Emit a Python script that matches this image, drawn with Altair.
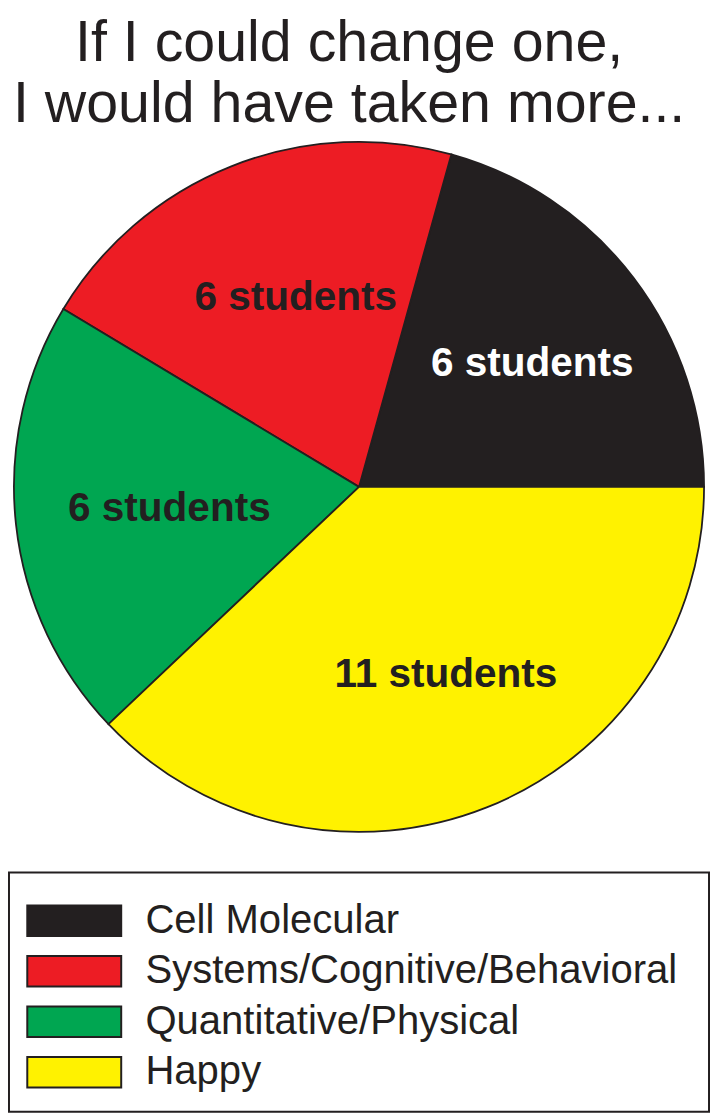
import math
import altair as alt
import pandas as pd

# ---- data ----
categories = ["Cell Molecular", "Systems/Cognitive/Behavioral", "Quantitative/Physical", "Happy"]
students = [6, 6, 6, 11]
colors = ["#231F20", "#ED1C24", "#00A651", "#FFF200"]
title_lines = ["If I could change one,", "I would have taken more..."]

df = pd.DataFrame({
    "category": categories,
    "students": students,
    "idx": list(range(len(categories))),
})
df["label"] = df["students"].astype(str) + " students"

FONT = "Liberation Sans"
INK = "#231F20"
color_scale = alt.Scale(domain=categories, range=colors)

base = alt.Chart(df).encode(
    theta=alt.Theta("students:Q", stack=True,
                    scale=alt.Scale(range=[math.pi / 2, math.pi / 2 + 2 * math.pi])),
    order=alt.Order("idx:Q", sort="descending"),
)
arcs = base.mark_arc(radius=349, stroke=INK, strokeWidth=1.8).encode(
    fill=alt.Fill("category:N", scale=color_scale, legend=None)
)
labels = base.mark_text(radius=205, dx=12, font=FONT, fontSize=41, fontWeight="bold").encode(
    text="label:N",
    color=alt.condition(alt.datum.category == "Cell Molecular",
                        alt.value("white"), alt.value(INK)),
)
pie = alt.layer(arcs, labels).properties(
    width=708,
    height=698,
    title=alt.TitleParams(text=title_lines, font=FONT, fontSize=58, fontWeight="normal",
                          color=INK, anchor="middle", lineHeight=62, offset=4, dx=-10),
    view=alt.ViewBackground(stroke="transparent"),
)

leg = alt.Chart(df).encode(
    y=alt.Y("category:N", sort=categories,
            scale=alt.Scale(type="point", padding=0.87, align=0.55), axis=None)
)
swatches = leg.mark_point(shape="M-1,-0.326H1V0.326H-1Z", size=9025, filled=True,
                          stroke=INK, strokeWidth=2, opacity=1).encode(
    x=alt.value(66),
    fill=alt.Fill("category:N", scale=color_scale, legend=None),
)
names = leg.mark_text(align="left", baseline="middle", font=FONT, fontSize=40.5,
                      color=INK).encode(
    x=alt.value(138),
    text="category:N",
)
legend_box = alt.layer(swatches, names).properties(
    width=708,
    height=242,
    view=alt.ViewBackground(stroke=INK, strokeWidth=2),
)

chart = alt.vconcat(pie, legend_box, spacing=35).properties(
    padding={"left": 0, "right": 0, "top": 0, "bottom": 0},
    background="white",
)

chart.save("out.html", embed_options={"renderer": "svg", "actions": False})
